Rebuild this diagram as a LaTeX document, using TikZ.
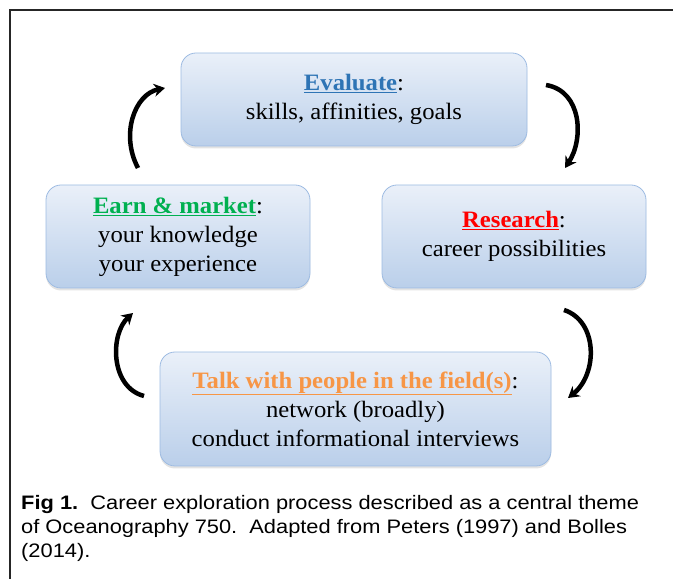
\documentclass[tikz,border=0pt]{standalone}
\usepackage{fontspec}
\setmainfont{Liberation Serif}[FakeStretch=1.05]
\newfontfamily\capfont[FakeStretch=1.12]{Liberation Sans}
\usetikzlibrary{arrows.meta,shadows}
\definecolor{evalblue}{HTML}{2E74B5}
\definecolor{earngreen}{HTML}{00B050}
\definecolor{resred}{HTML}{FF0000}
\definecolor{talkorange}{HTML}{F79646}
\definecolor{boxtop}{HTML}{EAF0F9}
\definecolor{boxbot}{HTML}{BACFEA}
\definecolor{boxedge}{HTML}{9DBBE2}
\tikzset{
  stagebox/.style={rounded corners=15pt, draw=boxedge, line width=0.8pt,
    top color=boxtop, bottom color=boxbot, align=center, inner sep=0pt,
    font=\fontsize{23.5}{29}\selectfont,
    drop shadow={opacity=0.22, shadow xshift=0pt, shadow yshift=-2.5pt}},
  cyclearrow/.style={line width=4.5pt, -{Stealth[length=11pt,width=13pt]}},
}
\begin{document}
\begin{tikzpicture}[x=1pt,y=1pt]
\useasboundingbox (0,0) rectangle (673,579);
\draw[line width=1.1pt, black!85] (10,0) -- (10,569) -- (673,569);
\node[stagebox, minimum width=346pt, minimum height=93pt] (eval) at (354,479.5)
  {\textcolor{evalblue}{\underline{\textbf{Evaluate}}}:\\skills, affinities, goals};
\node[stagebox, minimum width=264pt, minimum height=103pt] (earn) at (178,342.5)
  {\textcolor{earngreen}{\underline{\textbf{Earn \& market}}}:\\your knowledge\\your experience};
\node[stagebox, minimum width=264pt, minimum height=103pt] (res) at (514,342.5)
  {\textcolor{resred}{\underline{\textbf{Research}}}:\\career possibilities};
\node[stagebox, minimum width=391pt, minimum height=114pt] (talk) at (355.5,170)
  {\textcolor{talkorange}{\underline{\textbf{Talk with people in the field(s)}}}:\\network (broadly)\\conduct informational interviews};
\coordinate (a1s) at (138,411);
\coordinate (a1e) at (165,491);
\coordinate (a2s) at (546,494);
\coordinate (a2e) at (565,411);
\coordinate (a3s) at (564,269);
\coordinate (a3e) at (568,181);
\coordinate (a4s) at (144,183);
\coordinate (a4e) at (133,266);
\draw[cyclearrow] (a1s) .. controls (120,445) and (135,485) .. (a1e);
\draw[cyclearrow] (a2s) .. controls (582,488) and (584,440) .. (a2e);
\draw[cyclearrow] (a3s) .. controls (598,258) and (598,205) .. (a3e);
\draw[cyclearrow] (a4s) .. controls (110,192) and (110,245) .. (a4e);
\node[anchor=base west, align=left, inner sep=0pt, font=\capfont\fontsize{19.5}{24}\selectfont] (caption) at (21,21)
  {\textbf{Fig 1.}\ \ Career exploration process described as a central theme\\
   of Oceanography 750.\ \ Adapted from Peters (1997) and Bolles\\
   (2014).};
\end{tikzpicture}
\end{document}
